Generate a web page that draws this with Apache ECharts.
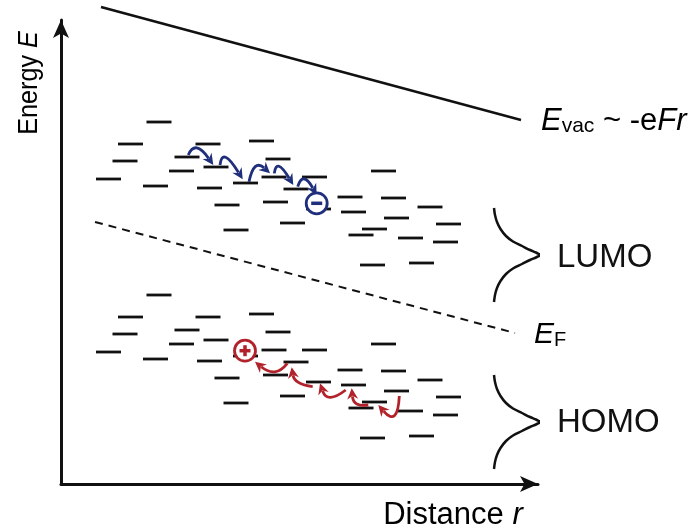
<!DOCTYPE html>
<html lang="en">
<head>
<meta charset="UTF-8">
<title>Energy levels vs distance</title>
<script src="https://cdn.jsdelivr.net/npm/echarts@6/dist/echarts.min.js"></script>
<style>
    html, body { margin: 0; padding: 0; background: #fff; }
    #chart { width: 694px; height: 532px; }
</style>
</head>
<body>
<div id="chart"></div>
<script>
// r = distance, E = energy, both in arbitrary units from the axis origin
var lumoLevels = [
    [98, 362], [69.5, 340], [147, 340], [200.5, 343], [64, 323], [126, 327],
    [155, 317], [217, 325], [120.5, 313], [47.5, 305], [94.5, 298], [148.5, 296],
    [184.5, 301], [213, 307], [253.5, 307], [235, 295], [322.5, 313], [166, 279],
    [214.5, 282], [257.5, 275], [289, 287], [332.5, 286], [292.5, 272], [369, 277],
    [335.5, 266], [231.5, 261], [175, 254], [313.5, 255], [300, 249], [349.5, 246],
    [387.5, 260], [384.5, 242], [311.5, 219], [360.5, 221]
];
var homoLevels = [
    [98, 189], [69.5, 167], [147, 167], [200.5, 170], [64, 150], [126, 154],
    [155, 144], [217, 152], [120.5, 140], [47.5, 132], [94.5, 125], [148.5, 123],
    [184.5, 128], [213, 134], [253.5, 134], [235, 122], [322.5, 140], [166, 106],
    [214.5, 109], [257.5, 102], [289, 114], [332.5, 113], [292.5, 99], [369, 104],
    [335.5, 93], [231.5, 88], [175, 81], [313.5, 82], [300, 76], [349.5, 73],
    [387.5, 87], [384.5, 69], [311.5, 46], [360.5, 48]
];
var vacLine = [[40, 477], [460, 364]];
var fermiLine = [[34, 262], [454, 151]];
// density-of-states outlines beside the two bands
var lumoDos = [[433, 276], [434, 269], [436, 262], [439.5, 255], [445, 248], [452, 242.5],
    [461, 238], [469, 234], [475, 231.5], [479, 229.5], [480.5, 229],
    [479, 228.5], [475, 226.5], [469, 224], [461, 220], [452, 215.5], [445, 210],
    [439.5, 203], [436, 196], [434, 189], [433, 182]];
var homoDos = [[433, 109], [434, 102], [436, 95], [439.5, 88], [445, 81], [452, 75.5],
    [461, 71], [469, 67], [475, 64.5], [479, 62.5], [480.5, 62],
    [479, 61.5], [475, 59.5], [469, 57], [461, 53], [452, 48.5], [445, 43],
    [439.5, 36], [436, 29], [434, 22], [433, 15]];
// start r, start E, middle r, middle E, end r, end E
var electronHops = [
    [127.3, 329, 137, 334.5, 152.3, 319],
    [159, 319, 165.7, 325, 181.7, 304.7],
    [188, 302.3, 195.7, 316, 209, 310.7],
    [213.3, 310.7, 219, 316, 232.3, 299],
    [236.7, 297.3, 244, 303.5, 255.7, 289]
];
var holeHops = [
    [226.3, 120.7, 212.3, 113.5, 194, 122.3],
    [251.7, 97.3, 237.3, 103.5, 230.7, 116.7],
    [284.7, 94, 269, 88.5, 259, 100.7],
    [307.3, 79, 295.7, 82, 290.7, 95.7],
    [338.3, 88, 332.3, 70, 317.3, 79]
];
var electron = [[255.7, 280.7]];
var hole = [[184, 133.3]];

var BLUE = '#1f2f7c';
var RED = '#b2222a';
var INK = '#111';
var FONT = 'Liberation Sans, Arial, sans-serif';

var myChart = echarts.init(document.getElementById('chart'));

function renderLevel(params, api) {
    var c = api.coord([api.value(0), api.value(1)]);
    return {
        type: 'line',
        shape: { x1: c[0] - 12.5, y1: c[1], x2: c[0] + 12.5, y2: c[1] },
        style: { stroke: INK, lineWidth: 2.8 }
    };
}

function hopRenderer(color) {
    return function (params, api) {
        var p0 = api.coord([api.value(0), api.value(1)]);
        var pm = api.coord([api.value(2), api.value(3)]);
        var p2 = api.coord([api.value(4), api.value(5)]);
        // control point so the curve goes through the middle point
        var cx = 2 * pm[0] - (p0[0] + p2[0]) / 2;
        var cy = 2 * pm[1] - (p0[1] + p2[1]) / 2;
        var dx = p2[0] - cx, dy = p2[1] - cy;
        var len = Math.sqrt(dx * dx + dy * dy);
        var ux = dx / len, uy = dy / len;
        var L = 11, W = 5.5;
        var bx = p2[0] - ux * L, by = p2[1] - uy * L;
        return {
            type: 'group',
            children: [{
                type: 'bezierCurve',
                shape: { x1: p0[0], y1: p0[1], cpx1: cx, cpy1: cy, x2: bx + ux * 3, y2: by + uy * 3 },
                style: { stroke: color, lineWidth: 2.8, fill: null }
            }, {
                type: 'polygon',
                shape: { points: [
                    [p2[0], p2[1]],
                    [bx - uy * W, by + ux * W],
                    [bx + ux * 3.5, by + uy * 3.5],
                    [bx + uy * W, by - ux * W]
                ] },
                style: { fill: color }
            }]
        };
    };
}

function chargeRenderer(color, plus) {
    return function (params, api) {
        var c = api.coord([api.value(0), api.value(1)]);
        var kids = [{
            type: 'circle',
            shape: { cx: c[0], cy: c[1], r: 10.5 },
            style: { fill: '#fff', stroke: color, lineWidth: 2.8 }
        }, {
            type: 'line',
            shape: { x1: c[0] - 5.5, y1: c[1], x2: c[0] + 5.5, y2: c[1] },
            style: { stroke: color, lineWidth: 3.5 }
        }];
        if (plus) {
            kids.push({
                type: 'line',
                shape: { x1: c[0], y1: c[1] - 5.5, x2: c[0], y2: c[1] + 5.5 },
                style: { stroke: color, lineWidth: 3.5 }
            });
        }
        return { type: 'group', children: kids };
    };
}

function curve(data, dashed) {
    return {
        type: 'line',
        data: data,
        symbol: 'none',
        smooth: !dashed && data.length > 2 ? 0.3 : false,
        clip: false,
        silent: true,
        lineStyle: { color: INK, width: dashed ? 2 : 2.5, type: dashed ? [8, 6] : 'solid' }
    };
}

var axisCommon = {
    type: 'value',
    axisLine: {
        show: true,
        symbol: ['none', 'arrow'],
        symbolSize: [12, 18],
        lineStyle: { color: INK, width: 3 }
    },
    axisTick: { show: false },
    axisLabel: { show: false },
    splitLine: { show: false }
};

function richSet(size) {
    return {
        n: { fontFamily: FONT, fontSize: size, color: '#111', verticalAlign: 'bottom', lineHeight: size + 2 },
        i: { fontFamily: FONT, fontSize: size, fontStyle: 'italic', color: '#111', verticalAlign: 'bottom', lineHeight: size + 2 },
        s: { fontFamily: FONT, fontSize: Math.round(size * 0.68), color: '#111', verticalAlign: 'bottom', lineHeight: Math.round(size * 0.64) }
    };
}

var option = {
    animation: false,
    grid: { left: 61, right: 156, top: 20, bottom: 48 },
    xAxis: Object.assign({ min: 0, max: 477 }, axisCommon),
    yAxis: Object.assign({ min: 0, max: 464 }, axisCommon),
    graphic: [
        { type: 'text', x: 28, y: 83, rotation: Math.PI / 2, scaleX: 0.9,
          style: { text: '{n|Energy }{i|E}', rich: richSet(28), textAlign: 'center', textVerticalAlign: 'middle' } },
        { type: 'text', x: 453, y: 514,
          style: { text: '{n|Distance }{i|r}', rich: richSet(31), textAlign: 'center', textVerticalAlign: 'middle' } },
        { type: 'text', x: 541, y: 137,
          style: { text: '{i|E}{s|vac}{n| ~ -e}{i|F}{i|r}', rich: richSet(31), textAlign: 'left', textVerticalAlign: 'bottom' } },
        { type: 'text', x: 534, y: 350,
          style: { text: '{i|E}{s|F}', rich: richSet(30), textAlign: 'left', textVerticalAlign: 'bottom' } },
        { type: 'text', x: 557, y: 258,
          style: { text: 'LUMO', textAlign: 'left', textVerticalAlign: 'middle', fontFamily: FONT, fontSize: 33, fill: '#111' } },
        { type: 'text', x: 557, y: 423,
          style: { text: 'HOMO', textAlign: 'left', textVerticalAlign: 'middle', fontFamily: FONT, fontSize: 33, fill: '#111' } }
    ],
    series: [
        curve(vacLine, false),
        curve(fermiLine, true),
        curve(lumoDos, false),
        curve(homoDos, false),
        { type: 'custom', renderItem: renderLevel, data: lumoLevels, silent: true },
        { type: 'custom', renderItem: renderLevel, data: homoLevels, silent: true },
        { type: 'custom', renderItem: hopRenderer(BLUE), data: electronHops, silent: true,
          dimensions: ['r0', 'e0', 'r1', 'e1', 'r2', 'e2'], encode: { x: [0, 2, 4], y: [1, 3, 5] } },
        { type: 'custom', renderItem: hopRenderer(RED), data: holeHops, silent: true,
          dimensions: ['r0', 'e0', 'r1', 'e1', 'r2', 'e2'], encode: { x: [0, 2, 4], y: [1, 3, 5] } },
        { type: 'custom', renderItem: chargeRenderer(BLUE, false), data: electron, silent: true },
        { type: 'custom', renderItem: chargeRenderer(RED, true), data: hole, silent: true }
    ]
};
myChart.setOption(option);
</script>
</body>
</html>
